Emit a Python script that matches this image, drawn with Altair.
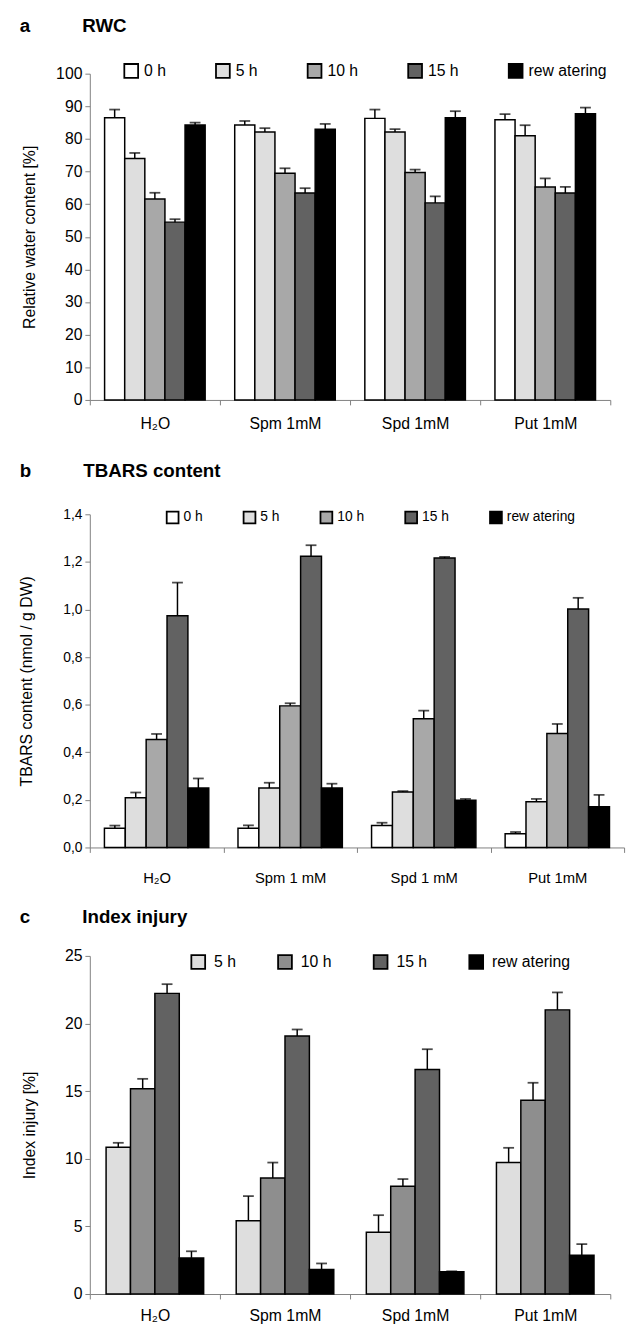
import altair as alt
import pandas as pd

FONT = "Liberation Sans"

# ---------------- Panel a: RWC ----------------
groups_a = ["H₂O", "Spm 1mM", "Spd 1mM", "Put 1mM"]
series_a = ["0 h", "5 h", "10 h", "15 h", "rew atering"]
rwc_0h = [86.5, 84.3, 86.3, 85.9]
rwc_5h = [74.0, 82.1, 82.1, 81.0]
rwc_10h = [61.6, 69.5, 69.7, 65.3]
rwc_15h = [54.5, 63.4, 60.4, 63.4]
rwc_rew = [84.3, 83.0, 86.5, 87.7]
rwc_err_0h = [2.5, 1.2, 2.7, 1.7]
rwc_err_5h = [1.7, 1.2, 0.9, 3.2]
rwc_err_10h = [1.9, 1.5, 0.9, 2.6]
rwc_err_15h = [0.9, 1.5, 2.0, 1.9]
rwc_err_rew = [0.7, 1.6, 2.0, 1.9]

# ---------------- Panel b: TBARS ----------------
groups_b = ["H₂O", "Spm 1 mM", "Spd 1 mM", "Put 1mM"]
series_b = ["0 h", "5 h", "10 h", "15 h", "rew atering"]
tb_0h = [0.081, 0.081, 0.092, 0.058]
tb_5h = [0.209, 0.250, 0.233, 0.192]
tb_10h = [0.454, 0.595, 0.541, 0.479]
tb_15h = [0.974, 1.224, 1.216, 1.002]
tb_rew = [0.250, 0.250, 0.198, 0.171]
tb_err_0h = [0.011, 0.012, 0.012, 0.007]
tb_err_5h = [0.022, 0.022, 0.004, 0.012]
tb_err_10h = [0.023, 0.011, 0.034, 0.040]
tb_err_15h = [0.139, 0.046, 0.005, 0.047]
tb_err_rew = [0.040, 0.018, 0.006, 0.050]

# ---------------- Panel c: Index injury ----------------
groups_c = ["H₂O", "Spm 1mM", "Spd 1mM", "Put 1mM"]
series_c = ["5 h", "10 h", "15 h", "rew atering"]
ii_5h = [10.86, 5.42, 4.57, 9.72]
ii_10h = [15.18, 8.58, 7.97, 14.33]
ii_15h = [22.23, 19.07, 16.60, 21.01]
ii_rew = [2.67, 1.82, 1.65, 2.86]
ii_err_5h = [0.32, 1.82, 1.26, 1.09]
ii_err_10h = [0.73, 1.14, 0.53, 1.29]
ii_err_15h = [0.68, 0.49, 1.50, 1.29]
ii_err_rew = [0.49, 0.44, 0.03, 0.83]

fill_5 = ["#ffffff", "#dedede", "#a8a8a8", "#626262", "#000000"]
fill_4 = ["#dedede", "#8e8e8e", "#626262", "#000000"]


def build_df(groups, series, vals, errs):
    rows = []
    for s, v, e in zip(series, vals, errs):
        for g, vv, ee in zip(groups, v, e):
            rows.append({"group": g, "series": s, "value": vv, "top": vv + ee})
    return pd.DataFrame(rows)


def panel(letter, title, groups, series, vals, errs, colors, ymax, yvals, ytitle,
          width, height, outer, legend_x, legend_y, col_pad, sym, lab_off,
          lab_size, tick_size, xlab_size, xlab_pad, title_x, label_expr=None,
          title_offset=10):
    df = build_df(groups, series, vals, errs)
    base = alt.Chart(df)
    x = alt.X("group:N", sort=groups, title=None,
              scale=alt.Scale(paddingInner=0, paddingOuter=0),
              axis=alt.Axis(labelAngle=0, tickBand="extent", domainColor="#808080",
                            tickColor="#808080", tickSize=5, labelFont=FONT,
                            labelFontSize=xlab_size, labelPadding=xlab_pad,
                            labelColor="black"))
    xo = alt.XOffset("series:N", sort=series,
                     scale=alt.Scale(paddingInner=0, paddingOuter=outer))
    ax_kw = dict(values=yvals, grid=False, domainColor="#808080", tickColor="#808080",
                 tickSize=5, labelFont=FONT, labelFontSize=tick_size, labelColor="black",
                 title=ytitle, titleFont=FONT, titleFontSize=16, titleFontWeight="normal",
                 titleColor="black", titleX=title_x, labelPadding=3)
    if label_expr:
        ax_kw["labelExpr"] = label_expr
    yscale = alt.Scale(domain=[0, ymax], nice=False)
    bars = base.mark_bar(stroke="black", strokeWidth=1.5).encode(
        x=x, xOffset=xo,
        y=alt.Y("value:Q", scale=yscale, axis=alt.Axis(**ax_kw)),
        color=alt.Color("series:N", sort=series,
                        scale=alt.Scale(domain=series, range=colors),
                        legend=alt.Legend(title=None, orient="none", legendX=legend_x,
                                          legendY=legend_y, direction="horizontal",
                                          columns=len(series), columnPadding=col_pad,
                                          symbolType="square", symbolSize=sym * sym,
                                          symbolStrokeColor="black", symbolStrokeWidth=1.8,
                                          symbolOpacity=1, labelOffset=lab_off,
                                          labelFont=FONT, labelFontSize=lab_size,
                                          labelColor="black")),
    )
    rules = base.mark_rule(color="black", strokeWidth=1.5).encode(
        x=x, xOffset=xo,
        y=alt.Y("value:Q", scale=yscale, axis=alt.Axis(**ax_kw)),
        y2="top:Q",
    )
    caps = base.mark_tick(color="black", thickness=1.8, size=11).encode(
        x=x, xOffset=xo,
        y=alt.Y("top:Q", scale=yscale, axis=alt.Axis(**ax_kw)),
    )
    nb = "\u00a0" * 10
    return alt.layer(bars, rules, caps).properties(
        width=width, height=height,
        title=alt.TitleParams(text=letter + nb + title, anchor="start", frame="group",
                              dx=-71, font=FONT, fontSize=19, fontWeight="bold",
                              color="black", offset=title_offset),
    )


pa = panel("a", "RWC", groups_a, series_a,
           [rwc_0h, rwc_5h, rwc_10h, rwc_15h, rwc_rew],
           [rwc_err_0h, rwc_err_5h, rwc_err_10h, rwc_err_15h, rwc_err_rew],
           fill_5, 100, list(range(0, 101, 10)), "Relative water content [%]",
           528, 331, 0.735, 34, -11, 46, 14, 5, 16, 16, 16, 11, -53,
           title_offset=27)

pb = panel("b", "TBARS content", groups_b, series_b,
           [tb_0h, tb_5h, tb_10h, tb_15h, tb_rew],
           [tb_err_0h, tb_err_5h, tb_err_10h, tb_err_15h, tb_err_rew],
           fill_5, 1.4, [0, 0.2, 0.4, 0.6, 0.8, 1.0, 1.2, 1.4], "TBARS content (nmol / g DW)",
           542, 338, 0.7, 77, -4, 37, 12, 4, 14, 14, 15, 19, -56,
           label_expr="replace(format(datum.value, '.1f'), '.', ',')",
           title_offset=27)

pc = panel("c", "Index injury", groups_c, series_c,
           [ii_5h, ii_10h, ii_15h, ii_rew],
           [ii_err_5h, ii_err_10h, ii_err_15h, ii_err_rew],
           fill_4, 25, [0, 5, 10, 15, 20, 25], "Index injury [%]",
           528, 343, 0.667, 102, -2, 38, 14, 8, 16, 16, 16, 9, -53,
           title_offset=21)

RES = dict(color="independent", x="independent", y="independent", xOffset="independent")

top = (
    alt.vconcat(pa, pb, spacing=31)
    .resolve_scale(**RES)
    .resolve_legend(color="independent")
)

chart = (
    alt.vconcat(top, pc, spacing=23)
    .resolve_scale(**RES)
    .resolve_legend(color="independent")
    .properties(padding={"left": 11, "top": 0, "right": 5, "bottom": 5})
    .configure_view(stroke=None)
)

chart.save("out.html", embed_options={"renderer": "svg", "actions": False})
